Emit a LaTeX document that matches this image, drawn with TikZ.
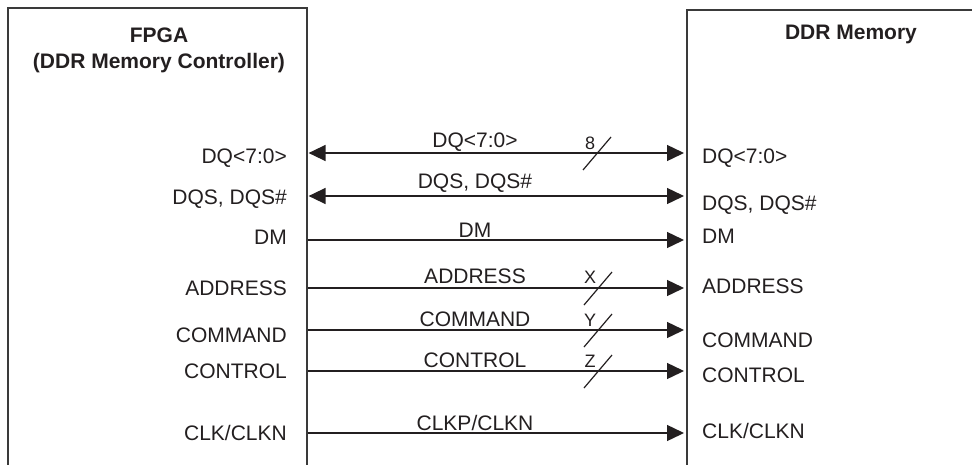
\documentclass[tikz,border=0pt]{standalone}
\usepackage{fontspec}
\setmainfont{Liberation Sans}
\usepackage{tikz}
\usetikzlibrary{arrows.meta}
\definecolor{ddrink}{HTML}{231F20}
\definecolor{ddrrule}{HTML}{3A3A3A}

\begin{document}
\begin{tikzpicture}[x=1pt,y=-1pt,font=\fontsize{21}{28}\selectfont,
  blk/.style={draw=ddrrule,line width=1.6pt,anchor=north west,minimum height=480pt,inner sep=0pt},
  ttl/.style={font=\fontsize{21}{28}\selectfont\bfseries,anchor=base,text=ddrink,inner sep=0pt},
  lpin/.style={anchor=base east,inner sep=0pt,text=ddrink},
  rpin/.style={anchor=base west,inner sep=0pt,text=ddrink},
  sig/.style={anchor=base,inner sep=0pt,text=ddrink},
  wd/.style={font=\fontsize{18}{20}\selectfont,anchor=base,inner sep=0pt,text=ddrink},
  arr/.style={-{Triangle[length=17pt,width=16pt]},line width=1.4pt,draw=ddrink},
  barr/.style={{Triangle[length=17pt,width=16pt]}-{Triangle[length=17pt,width=16pt]},line width=1.4pt,draw=ddrink},
  bus/.style={line width=1.2pt,draw=ddrink}]
  \clip (0,0) rectangle (972,464);
  % the two chips
  \node[blk,minimum width=299pt] (fpga) at (7,7) {};
  \node[blk,minimum width=320pt] (mem) at (686,9) {};
  \node[ttl] (fpgat) at (159,42) {FPGA};
  \node[ttl] (fpgas) at (159,68) {(DDR Memory Controller)};
  \node[ttl] (memt) at (851,39) {DDR Memory};
  % pins on the controller side
  \node[lpin] (ldq) at (287,163) {DQ<7:0>};
  \node[lpin] (ldqs) at (287,204) {DQS, DQS\#};
  \node[lpin] (ldm) at (287,244) {DM};
  \node[lpin] (ladr) at (287,295) {ADDRESS};
  \node[lpin] (lcmd) at (287,342) {COMMAND};
  \node[lpin] (lctl) at (287,378) {CONTROL};
  \node[lpin] (lclk) at (287,440) {CLK/CLKN};
  % pins on the memory side
  \node[rpin] (rdq) at (702,163) {DQ<7:0>};
  \node[rpin] (rdqs) at (702,210) {DQS, DQS\#};
  \node[rpin] (rdm) at (702,243) {DM};
  \node[rpin] (radr) at (702,293) {ADDRESS};
  \node[rpin] (rcmd) at (702,347) {COMMAND};
  \node[rpin] (rctl) at (702,382) {CONTROL};
  \node[rpin] (rclk) at (702,438) {CLK/CLKN};
  % signals
  \draw[barr] ([xshift=1pt]fpga.north east |- 0,153) -- ([xshift=-2pt]mem.north west |- 0,153);
  \draw[barr] ([xshift=1pt]fpga.north east |- 0,196) -- ([xshift=-2pt]mem.north west |- 0,196);
  \draw[arr] (fpga.north east |- 0,240) -- ([xshift=-2pt]mem.north west |- 0,240);
  \draw[arr] (fpga.north east |- 0,288) -- ([xshift=-2pt]mem.north west |- 0,288);
  \draw[arr] (fpga.north east |- 0,330) -- ([xshift=-2pt]mem.north west |- 0,330);
  \draw[arr] (fpga.north east |- 0,371) -- ([xshift=-2pt]mem.north west |- 0,371);
  \draw[arr] (fpga.north east |- 0,433) -- ([xshift=-2pt]mem.north west |- 0,433);
  \node[sig] (sdq) at (475,147) {DQ<7:0>};
  \node[sig] (sdqs) at (475,188) {DQS, DQS\#};
  \node[sig] (sdm) at (475,237) {DM};
  \node[sig] (sadr) at (475,283) {ADDRESS};
  \node[sig] (scmd) at (475,326) {COMMAND};
  \node[sig] (sctl) at (475,367) {CONTROL};
  \node[sig] (sclk) at (475,430) {CLKP/CLKN};
  % bus widths
  \draw[bus] (583,170) -- (611,137); \node[wd] (wdq) at (590,149) {8};
  \draw[bus] (584,305) -- (612,272); \node[wd] (wadr) at (590,283) {X};
  \draw[bus] (584,347) -- (612,314); \node[wd] (wcmd) at (590,326) {Y};
  \draw[bus] (584,388) -- (612,355); \node[wd] (wctl) at (590,367) {Z};
\end{tikzpicture}
\end{document}
